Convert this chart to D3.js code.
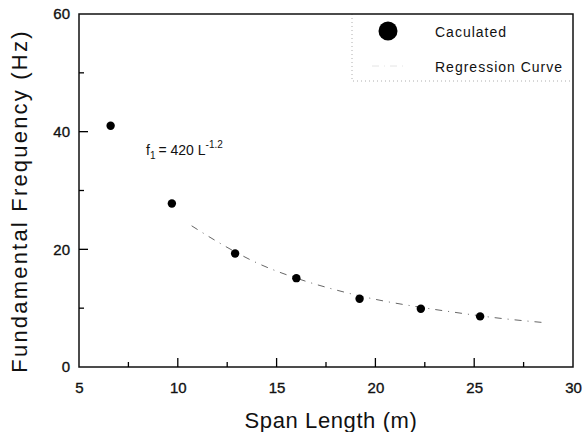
<!DOCTYPE html>
<html>
<head>
<meta charset="utf-8">
<script src="https://cdn.jsdelivr.net/npm/d3@7"></script>
<style>
  body { margin: 0; background: #fff; }
  svg text { font-family: Arial, "Liberation Sans", sans-serif; fill: #111; }
</style>
</head>
<body>
<svg id="root" width="583" height="432"></svg>
<script>
// calculated fundamental frequencies
const spanLength = [6.6, 9.7, 12.9, 16.0, 19.2, 22.3, 25.3];
const frequency = [41.0, 27.8, 19.3, 15.1, 11.6, 9.9, 8.6];

// regression curve f1 = 420 L^-1.2
const curveL = [10.7, 12, 14, 16, 18, 20, 22, 24, 26, 28.7];
const curveF = [24.0, 21.3, 17.7, 15.1, 13.1, 11.5, 10.3, 9.3, 8.4, 7.5];

const xMajor = [5, 10, 15, 20, 25, 30];
const xMinor = [7.5, 12.5, 17.5, 22.5, 27.5];
const yMajor = [0, 20, 40, 60];
const yMinor = [10, 30, 50];

const legendLabels = ["Caculated", "Regression Curve"];

const draw = () => {
  const width = 583,
    height = 432;
  const left = 79,
    right = 573,
    top = 14,
    bottom = 367;

  const svg = d3.select("svg#root").attr("viewBox", [0, 0, width, height]);

  const x = d3.scaleLinear().domain([5, 30]).range([left, right]);
  const y = d3.scaleLinear().domain([0, 60]).range([bottom, top]);

  // legend box (faint dotted)
  svg
    .append("path")
    .attr("d", `M${352},${top} V${81} H${right}`)
    .attr("fill", "none")
    .attr("stroke", "#999")
    .attr("stroke-width", 0.8)
    .attr("stroke-dasharray", "1,3");

  // frame
  svg
    .append("rect")
    .attr("x", left)
    .attr("y", top)
    .attr("width", right - left)
    .attr("height", bottom - top)
    .attr("fill", "none")
    .attr("stroke", "#111")
    .attr("stroke-width", 1.5);

  // inward ticks, major and minor
  const tickLen = (major) => (major ? 9 : 5);
  svg
    .append("g")
    .selectAll("line")
    .data([...xMajor.slice(1, -1).map((v) => [v, true]), ...xMinor.map((v) => [v, false])])
    .join("line")
    .attr("x1", (d) => x(d[0]))
    .attr("x2", (d) => x(d[0]))
    .attr("y1", bottom)
    .attr("y2", (d) => bottom - tickLen(d[1]))
    .attr("stroke", "#000")
    .attr("stroke-width", 1.3);
  svg
    .append("g")
    .selectAll("line")
    .data([...yMajor.slice(1, -1).map((v) => [v, true]), ...yMinor.map((v) => [v, false])])
    .join("line")
    .attr("y1", (d) => y(d[0]))
    .attr("y2", (d) => y(d[0]))
    .attr("x1", left)
    .attr("x2", (d) => left + tickLen(d[1]))
    .attr("stroke", "#000")
    .attr("stroke-width", 1.3);

  // tick labels
  const xAxis = svg
    .append("g")
    .attr("transform", `translate(0,${bottom})`)
    .call(d3.axisBottom(x).tickValues(xMajor).tickSize(0).tickPadding(15).tickFormat(d3.format("d")))
    .call((g) => g.select(".domain").remove());
  const yAxis = svg
    .append("g")
    .attr("transform", `translate(${left},0)`)
    .call(d3.axisLeft(y).tickValues(yMajor).tickSize(0).tickPadding(9).tickFormat(d3.format("d")))
    .call((g) => g.select(".domain").remove());

  [xAxis, yAxis].forEach((g) => {
    g.selectAll(".tick line").remove();
    g.selectAll("text")
      .attr("font-family", "Arial, 'Liberation Sans', sans-serif")
      .attr("font-size", "15px")
      .attr("fill", "#111")
      .attr("stroke", "#111")
      .attr("stroke-width", 0.35);
  });

  // regression curve
  const line = d3
    .line()
    .x((d, i) => x(curveL[i]))
    .y((d) => y(d))
    .curve(d3.curveMonotoneX);
  svg
    .append("path")
    .datum(curveF)
    .attr("d", line)
    .attr("fill", "none")
    .attr("stroke", "#666")
    .attr("stroke-width", 1)
    .attr("stroke-dasharray", "7,6,1,6");

  // calculated points
  svg
    .append("g")
    .selectAll("circle")
    .data(frequency)
    .join("circle")
    .attr("cx", (d, i) => x(spanLength[i]))
    .attr("cy", (d) => y(d))
    .attr("r", 4.2)
    .attr("fill", "#000");

  // legend
  const legend = svg.append("g");
  legend.append("circle").attr("cx", 388).attr("cy", 31).attr("r", 9.5).attr("fill", "#000");
  legend
    .append("line")
    .attr("x1", 372)
    .attr("x2", 405)
    .attr("y1", 66)
    .attr("y2", 66)
    .attr("stroke", "#ddd")
    .attr("stroke-width", 0.8)
    .attr("stroke-dasharray", "7,5,1,5");
  legend
    .selectAll("text")
    .data(legendLabels)
    .join("text")
    .attr("x", 435)
    .attr("y", (d, i) => 37 + i * 35)
    .attr("font-size", "14px")
    .attr("letter-spacing", "1px")
    .text((d) => d);

  // equation annotation
  const eq = svg.append("text").attr("x", 146).attr("y", 155).attr("font-size", "14px");
  eq.append("tspan").text("f");
  eq.append("tspan").attr("font-size", "10px").attr("dy", 4).text("1");
  eq.append("tspan").attr("dy", -4).attr("dx", 3).text("= 420 L");
  eq.append("tspan").attr("font-size", "10px").attr("dy", -7).text("-1.2");

  // axis titles
  svg
    .append("text")
    .attr("x", 331)
    .attr("y", 428)
    .attr("text-anchor", "middle")
    .attr("font-size", "22px")
    .attr("letter-spacing", "0.6px")
    .text("Span Length (m)");
  svg
    .append("text")
    .attr("transform", `translate(27,201) rotate(-90)`)
    .attr("text-anchor", "middle")
    .attr("font-size", "22px")
    .attr("letter-spacing", "2.2px")
    .text("Fundamental Frequency (Hz)");

  return svg.node();
};

draw();
</script>
</body>
</html>
